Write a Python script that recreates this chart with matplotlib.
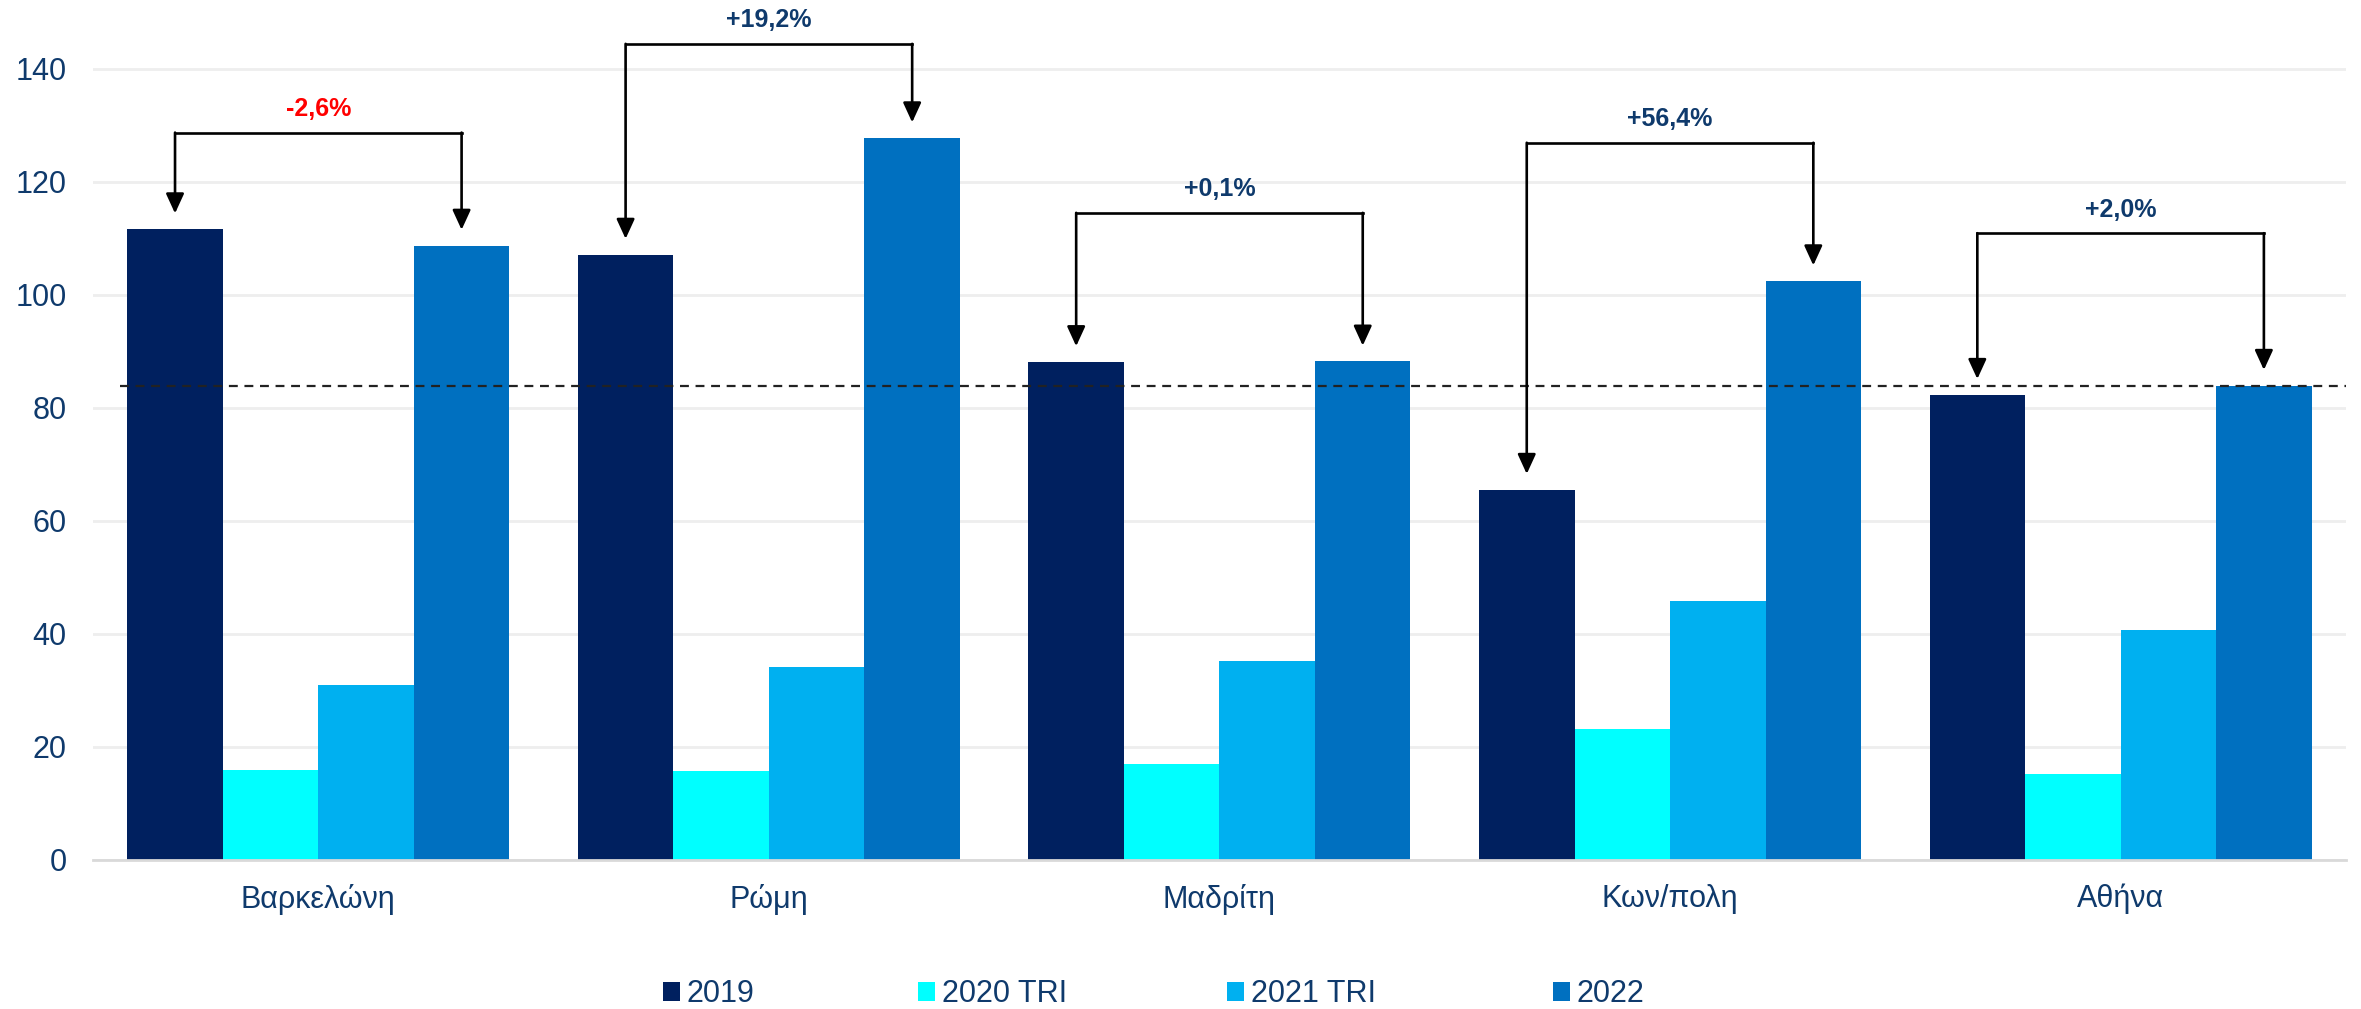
import matplotlib
matplotlib.use("Agg")
import matplotlib.pyplot as plt
import numpy as np

plt.rcParams['font.family'] = ['Liberation Sans', 'DejaVu Sans']

# data
cities = ['Βαρκελώνη', 'Ρώμη', 'Μαδρίτη', 'Κων/πολη', 'Αθήνα']
series = ['2019', '2020 TRI', '2021 TRI', '2022']
v2019 = [111.6, 107.1, 88.1, 65.5, 82.3]
v2020 = [16.0, 15.7, 17.0, 23.2, 15.2]
v2021 = [30.9, 34.1, 35.2, 45.8, 40.7]
v2022 = [108.7, 127.7, 88.2, 102.4, 83.9]
changes = ['-2,6%', '+19,2%', '+0,1%', '+56,4%', '+2,0%']
ref_level = 83.9

# bracket heights for the change annotations
bracket_y = [128.7, 144.4, 114.5, 126.9, 110.9]

colors = ['#00205F', '#00FFFF', '#00B0F0', '#0070C0']
txt_blue = '#0F3A6C'

fig = plt.figure(figsize=(23.61, 10.09), dpi=100)
ax = fig.add_axes([0.0394, 0.1477, 0.9542, 0.829])

x = np.arange(len(cities))
w = 0.212
all_vals = [v2019, v2020, v2021, v2022]
bars = []
for i, (vals, name) in enumerate(zip(all_vals, series)):
    b = ax.bar(x + (i - 1.5) * w, vals, width=w, color=colors[i], label=name, zorder=2)
    bars.append(b)

ax.set_xlim(-0.5, len(cities) - 0.5)
ax.set_ylim(0, 148)
ax.set_yticks(np.arange(0, 141, 20))
ax.set_xticks(x)
ax.set_xticklabels(cities)
ax.grid(axis='y', color='#EEEEEE', linewidth=2, zorder=0)
ax.set_axisbelow(True)
for s in ['top', 'right', 'left']:
    ax.spines[s].set_visible(False)
ax.spines['bottom'].set_color('#D9D9D9')
ax.spines['bottom'].set_linewidth(2)
ax.tick_params(axis='both', length=0, labelsize=22, labelcolor=txt_blue)
ax.tick_params(axis='y', pad=19)
ax.tick_params(axis='x', pad=17)

# reference dashed line
ax.axhline(ref_level, xmin=0.012, xmax=1, color='#222222', linestyle=(0, (4, 3)),
           linewidth=1.6, zorder=3)

# change brackets with arrows
for i in range(len(cities)):
    xl = x[i] - 1.5 * w
    xr = x[i] + 1.5 * w
    yb = bracket_y[i]
    ax.plot([xl, xr], [yb, yb], color='black', linewidth=1.9, zorder=4, clip_on=False,
            solid_capstyle='projecting')
    for xa, top in [(xl, v2019[i]), (xr, v2022[i])]:
        ax.annotate('', xy=(xa, top + 2.8), xytext=(xa, yb),
                    arrowprops=dict(arrowstyle='-|>,head_length=1.2,head_width=0.55',
                                    color='black', linewidth=1.9, shrinkA=0, shrinkB=0),
                    zorder=4, annotation_clip=False)
    col = '#FF0000' if changes[i].startswith('-') else txt_blue
    ax.text(x[i], yb + 2.9, changes[i], ha='center', va='baseline', fontsize=18,
            fontweight='bold', color=col, clip_on=False)

# legend entries placed one by one, as in the reference
leg_x = [663, 918, 1227, 1553]
for b, name, lx in zip(bars, series, leg_x):
    lg = fig.legend([b], [name], loc='center left', bbox_to_anchor=(lx / 2361, 0.0144),
                    frameon=False, fontsize=22, handlelength=0.56, handleheight=0.56,
                    handletextpad=0.22, borderpad=0, borderaxespad=0, labelcolor=txt_blue)

fig.savefig('out.png', dpi=100)
